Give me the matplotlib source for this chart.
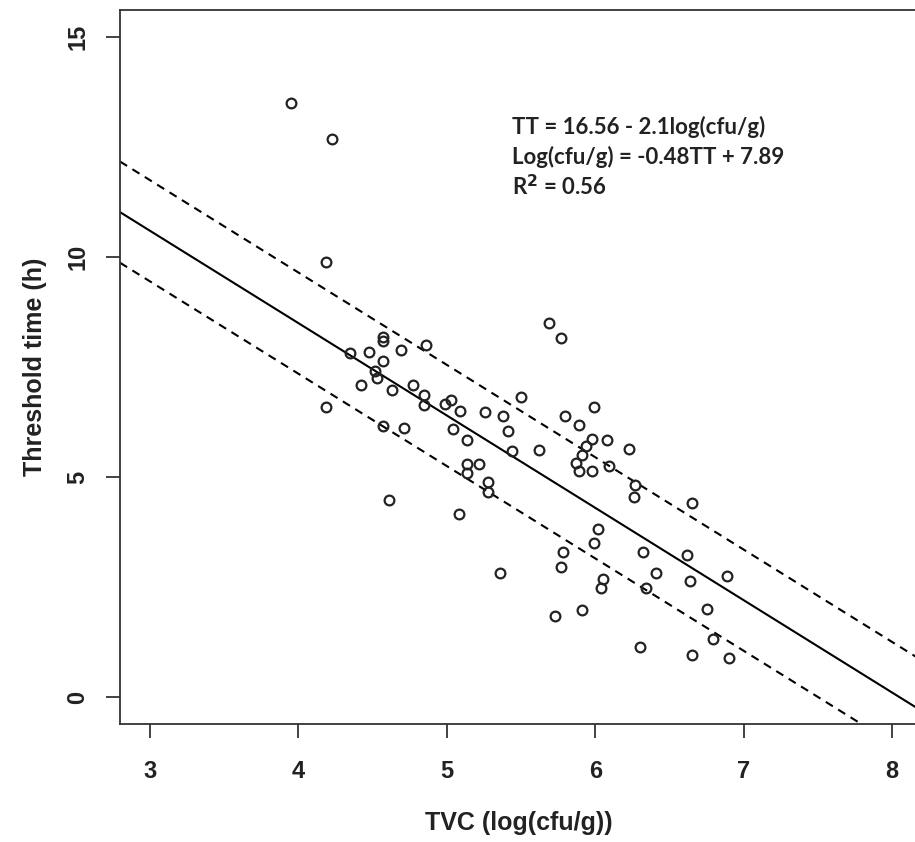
import matplotlib
matplotlib.use("Agg")
import matplotlib.pyplot as plt
import numpy as np

# Data
tvc = [3.95, 4.23, 4.19, 4.57, 4.57, 4.86, 4.69, 4.48, 4.35, 4.57,
       4.52, 4.53, 4.42, 4.63, 4.77, 4.85, 4.85, 4.99, 5.03, 5.09,
       4.19, 4.57, 4.71, 5.04, 4.61, 5.08,
       5.69, 5.77, 5.50, 5.26, 5.38, 5.99, 5.80, 5.89, 5.41, 5.14,
       5.98, 6.08, 5.94, 6.23, 5.62, 5.44, 5.91, 5.14, 5.22, 5.87,
       6.09, 5.14, 5.89, 5.98, 5.28, 5.28, 6.27, 6.26, 6.02,
       5.99, 5.78, 5.77, 5.36, 6.05, 6.04, 5.91, 5.73,
       6.65, 6.32, 6.62, 6.41, 6.64, 6.89, 6.34, 6.75, 6.79, 6.30,
       6.65, 6.90]
threshold_time = [13.51, 12.68, 9.89, 8.19, 8.10, 8.00, 7.89, 7.83, 7.81, 7.64,
                  7.42, 7.24, 7.08, 6.98, 7.08, 6.86, 6.64, 6.65, 6.75, 6.50,
                  6.58, 6.17, 6.11, 6.09, 4.48, 4.16,
                  8.49, 8.15, 6.81, 6.48, 6.39, 6.58, 6.39, 6.18, 6.05, 5.84,
                  5.86, 5.84, 5.70, 5.63, 5.61, 5.59, 5.50, 5.30, 5.30, 5.31,
                  5.26, 5.08, 5.14, 5.14, 4.89, 4.67, 4.82, 4.55, 3.81,
                  3.49, 3.29, 2.96, 2.81, 2.68, 2.47, 1.98, 1.83,
                  4.42, 3.30, 3.23, 2.81, 2.64, 2.75, 2.47, 1.99, 1.31, 1.13,
                  0.95, 0.88]

# fitted line and band as drawn in the picture
fit_intercept = 16.9
fit_slope = -2.1
band_halfwidth = 1.15

x_ticks = [3, 4, 5, 6, 7, 8]
y_ticks = [0, 5, 10, 15]

eq_lines = ["TT = 16.56 - 2.1log(cfu/g)",
            "Log(cfu/g) = -0.48TT + 7.89",
            r"R$^{\mathbf{2}}$ = 0.56"]

plt.rcParams['font.family'] = ['Liberation Sans', 'DejaVu Sans']
plt.rcParams['font.weight'] = 'bold'

fig = plt.figure(figsize=(9.15, 8.42), dpi=100)
ax = fig.add_axes([120 / 915, (842 - 724) / 842, 798 / 915, 714 / 842])

xlim = (2.8, 2.8 + 798 / 148.5)
ax.set_xlim(*xlim)
ax.set_ylim((697 - 724) / 44, (697 - 10) / 44)

xs = np.array(xlim)
fit = fit_intercept + fit_slope * xs
ax.plot(xs, fit, color='black', lw=1.5)
ax.plot(xs, fit + band_halfwidth, color='black', lw=1.5, ls=(0, (4, 3)))
ax.plot(xs, fit - band_halfwidth, color='black', lw=1.5, ls=(0, (4, 3)))

ax.plot(tvc, threshold_time, 'o', ms=7, mfc='none', mec='#222222', mew=1.6)

ax.set_xticks(x_ticks)
ax.set_yticks(y_ticks)
ax.tick_params(direction='out', length=10, width=1.2, labelsize=17, pad=12,
               colors='#222222')
ax.tick_params(axis='x', pad=16)
for lbl in ax.get_yticklabels():
    lbl.set_rotation(90)
    lbl.set_va('center')
for sp in ax.spines.values():
    sp.set_linewidth(1.3)
    sp.set_color('#333333')

ax.set_xlabel("TVC (log(cfu/g))", fontsize=18, fontweight='bold', labelpad=20,
              color='#222222')
ax.set_ylabel("Threshold time (h)", fontsize=18, fontweight='bold', labelpad=14,
              color='#222222')

for i, line in enumerate(eq_lines):
    ax.text(512 / 915, 1 - (127 + 30 * i) / 842, line, transform=fig.transFigure,
            fontsize=16, fontweight='bold', family=['Lato', 'DejaVu Sans'],
            va='center', ha='left', color='#222222')

fig.savefig("out.png", dpi=100)
